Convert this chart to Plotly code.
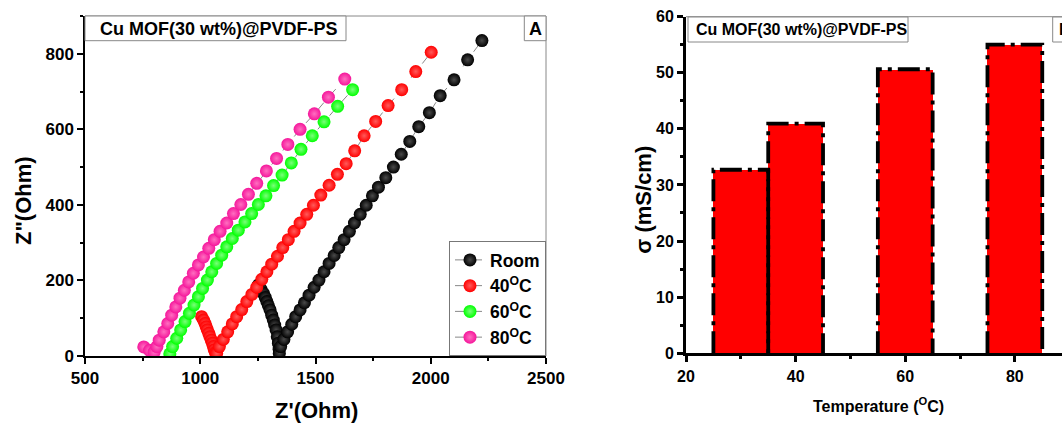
import plotly.graph_objects as go

W, H = 1062, 423

# ---------------- data: panel A (Nyquist) ----------------
room_zr = [1252, 1263, 1274, 1282, 1289, 1296, 1303, 1310, 1317, 1323, 1329, 1334, 1339, 1342, 1343,
           1349, 1363, 1379, 1397, 1414, 1433, 1452, 1472, 1494, 1515, 1537, 1559, 1581, 1601, 1624,
           1647, 1669, 1694, 1720, 1747, 1773, 1805, 1838, 1872, 1909, 1948, 1994, 2041, 2101, 2160, 2222]
room_zi = [188, 177, 166, 155, 144, 133, 122, 108, 95, 82, 69, 51, 34, 18, 7,
           25, 44, 64, 84, 104, 122, 141, 161, 182, 201, 223, 245, 266, 287, 308,
           330, 352, 375, 399, 424, 447, 472, 500, 534, 568, 607, 644, 689, 731, 784, 835]

t40_zr = [1006, 1014, 1021, 1026, 1031, 1037, 1042, 1048, 1053, 1057, 1061, 1066, 1071,
          1083, 1100, 1119, 1139, 1158, 1180, 1202, 1224, 1245, 1267, 1289, 1310, 1335, 1358,
          1382, 1407, 1433, 1462, 1491, 1523, 1559, 1595, 1633, 1670, 1711, 1761, 1815, 1874, 1935, 2002]
t40_zi = [104, 95, 86, 77, 69, 60, 51, 42, 34, 25, 16, 9, 7,
          25, 44, 64, 85, 104, 123, 144, 163, 182, 203, 223, 243, 264, 287,
          308, 330, 352, 375, 399, 426, 452, 481, 509, 543, 583, 621, 663, 705, 753, 804]

t60_zr = [868, 880, 898, 915, 934, 953, 973, 992, 1010, 1031, 1050, 1071, 1093, 1115, 1139,
          1165, 1194, 1223, 1252, 1285, 1318, 1355, 1395, 1437, 1486, 1537, 1596, 1661]
t60_zi = [6, 25, 47, 69, 91, 113, 135, 157, 179, 201, 223, 245, 267, 289, 311,
          333, 355, 377, 401, 424, 451, 479, 511, 547, 583, 620, 661, 705]

t80_zr = [755, 780, 800, 812, 822, 842, 859, 876, 894, 912, 931, 950, 970, 992, 1014,
          1037, 1061, 1086, 1115, 1144, 1176, 1209, 1245, 1287, 1331, 1380, 1433, 1495, 1556, 1627]
t80_zi = [24, 15, 10, 25, 42, 64, 86, 108, 130, 153, 174, 196, 219, 241, 262,
          285, 308, 330, 352, 377, 401, 428, 457, 490, 523, 560, 600, 641, 685, 733]

series_names = ["Room", "40<sup>O</sup>C", "60<sup>O</sup>C", "80<sup>O</sup>C"]
series_colors = ["#000000", "#FF0000", "#00FF00", "#F5169B"]
series_centers = ["#4A4A4A", "#FF5A5A", "#7AFF7A", "#FF6FC0"]

# ---------------- data: panel B (conductivity bars) ----------------
temps = [30, 40, 60, 80]
sigma = [32.7, 40.9, 50.6, 55.0]
BAR_W = 10

x_ticks_a = [500, 1000, 1500, 2000, 2500]
y_ticks_a = [0, 200, 400, 600, 800]
x_ticks_b = [20, 40, 60, 80]
y_ticks_b = [0, 10, 20, 30, 40, 50, 60]

# ---------------- helpers ----------------
def px(x):
    return x / W

def py(y):
    return 1 - y / H

SANS = "Liberation Sans, Arial, sans-serif"

fig = go.Figure()

all_series = [(room_zr, room_zi), (t40_zr, t40_zi), (t60_zr, t60_zi), (t80_zr, t80_zi)]
for (zr, zi), name, col, cen in zip(all_series, series_names, series_colors, series_centers):
    fig.add_trace(go.Scatter(
        x=zr, y=zi, name=name, mode="lines+markers",
        line=dict(color="#888888", width=1, dash="dash"),
        marker=dict(size=13, color=col, line=dict(width=0),
                    gradient=dict(type="radial", color=cen)),
        xaxis="x", yaxis="y",
    ))

fig.add_trace(go.Bar(
    x=temps, y=sigma, width=[BAR_W] * len(temps),
    marker=dict(color="#FF0000", line=dict(width=0)),
    showlegend=False, xaxis="x2", yaxis="y2",
))

ox, oy = [], []
for t, s in zip(temps, sigma):
    ox += [t - BAR_W / 2, t - BAR_W / 2, t + BAR_W / 2, t + BAR_W / 2, None]
    oy += [0, s, s, 0, None]
fig.add_trace(go.Scatter(
    x=ox, y=oy, mode="lines", connectgaps=False,
    line=dict(color="black", width=3.8, dash="22px,6px,4px,6px"),
    showlegend=False, hoverinfo="skip", xaxis="x2", yaxis="y2",
))

tickA = dict(family=SANS, size=17, color="black", weight="bold")
tickB = dict(family=SANS, size=16, color="black", weight="bold")

common = dict(showgrid=False, zeroline=False, automargin=False, showline=True,
              linecolor="black", ticks="outside", tickcolor="black")

fig.update_layout(
    template="none",
    width=W, height=H,
    margin=dict(l=0, r=0, t=0, b=0, pad=0, autoexpand=False),
    paper_bgcolor="white", plot_bgcolor="white",
    bargap=0,
    xaxis=dict(domain=[px(85), px(546)], range=[500, 2500], tickvals=x_ticks_a,
               ticklen=6, tickwidth=1.5, linewidth=1.5,
               minor=dict(ticks="outside", ticklen=3, tickwidth=1.5, tickcolor="black", dtick=250),
               tickfont=tickA, anchor="y", **common),
    yaxis=dict(domain=[py(356), py(16)], range=[0, 900], tickvals=y_ticks_a,
               ticklen=6, tickwidth=1.5, linewidth=1.5,
               minor=dict(ticks="outside", ticklen=3, tickwidth=1.5, tickcolor="black", dtick=100),
               tickfont=tickA, anchor="x", **common),
    xaxis2=dict(domain=[px(686), 1.0], range=[20, 88.6], tickvals=x_ticks_b,
                ticklen=6, tickwidth=3, linewidth=3,
                minor=dict(ticks="outside", ticklen=3, tickwidth=2.5, tickcolor="black", dtick=10),
                tickfont=tickB, anchor="y2", **common),
    yaxis2=dict(domain=[py(353.3), py(16.5)], range=[0, 60], tickvals=y_ticks_b,
                ticklen=6, tickwidth=3, linewidth=3,
                minor=dict(ticks="outside", ticklen=3, tickwidth=2.5, tickcolor="black", dtick=5),
                tickfont=tickB, anchor="x2", **common),
    legend=dict(x=px(546), y=py(356), xanchor="right", yanchor="bottom",
                bgcolor="white", bordercolor="#777777", borderwidth=1,
                font=dict(family=SANS, size=17.5, color="black", weight="bold"),
                itemsizing="trace", tracegroupgap=0),
    showlegend=True,
)

shapes = [
    # panel A frame (top / right)
    dict(type="line", xref="paper", yref="paper", x0=px(85), x1=px(546), y0=py(16), y1=py(16),
         line=dict(color="#888888", width=1)),
    dict(type="line", xref="paper", yref="paper", x0=px(546), x1=px(546), y0=py(16), y1=py(356),
         line=dict(color="#888888", width=1)),
    # panel A label boxes
    dict(type="rect", xref="paper", yref="paper", x0=px(85), x1=px(346), y0=py(40.7), y1=py(16),
         line=dict(color="#888888", width=1), fillcolor="white"),
    dict(type="rect", xref="paper", yref="paper", x0=px(524.3), x1=px(546), y0=py(40.7), y1=py(16),
         line=dict(color="#888888", width=1), fillcolor="white"),
    # panel B top frame
    dict(type="line", xref="paper", yref="paper", x0=px(686), x1=1.0, y0=py(16.7), y1=py(16.7),
         line=dict(color="#888888", width=1)),
    # panel B label boxes
    dict(type="rect", xref="paper", yref="paper", x0=px(688), x1=px(908), y0=py(42), y1=py(17),
         line=dict(color="#888888", width=1), fillcolor="white"),
    dict(type="rect", xref="paper", yref="paper", x0=px(1052.7), x1=px(1080), y0=py(42), y1=py(17),
         line=dict(color="#888888", width=1), fillcolor="white"),
]
fig.update_layout(shapes=shapes)

ann = [
    dict(text="Cu MOF(30 wt%)@PVDF-PS", x=px(218.5), y=py(29), font=dict(family=SANS, size=18, weight="bold")),
    dict(text="A", x=px(535.2), y=py(29), font=dict(family=SANS, size=18, weight="bold")),
    dict(text="Cu MOF(30 wt%)@PVDF-PS", x=px(801), y=py(30), font=dict(family=SANS, size=16, weight="bold")),
    dict(text="B", x=px(1057), y=py(30), xanchor="left", font=dict(family=SANS, size=16, weight="bold")),
    dict(text='Z"(Ohm)', x=px(23), y=py(201), textangle=-90, font=dict(family=SANS, size=22, weight="bold")),
    dict(text="Z'(Ohm)", x=px(316), y=py(410), font=dict(family=SANS, size=22, weight="bold")),
    dict(text="σ (mS/cm)", x=px(642.7), y=py(200), textangle=-90, font=dict(family=SANS, size=22, weight="bold")),
    dict(text="Temperature (<sup>O</sup>C)", x=px(878), y=py(405), font=dict(family=SANS, size=16, weight="bold")),
]
for a in ann:
    a.setdefault("xanchor", "center")
    a.update(xref="paper", yref="paper", yanchor="middle", showarrow=False)
    a["font"]["color"] = "black"
fig.update_layout(annotations=ann)

fig.write_html("out.html")
